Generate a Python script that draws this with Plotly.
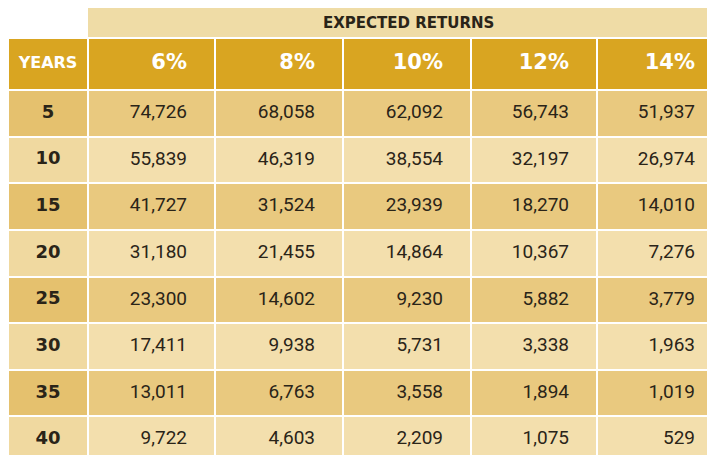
import plotly.graph_objects as go

years = ["5", "10", "15", "20", "25", "30", "35", "40"]
rates = ["6%", "8%", "10%", "12%", "14%"]
r6 = ["74,726", "55,839", "41,727", "31,180", "23,300", "17,411", "13,011", "9,722"]
r8 = ["68,058", "46,319", "31,524", "21,455", "14,602", "9,938", "6,763", "4,603"]
r10 = ["62,092", "38,554", "23,939", "14,864", "9,230", "5,731", "3,558", "2,209"]
r12 = ["56,743", "32,197", "18,270", "10,367", "5,882", "3,338", "1,894", "1,075"]
r14 = ["51,937", "26,974", "14,010", "7,276", "3,779", "1,963", "1,019", "529"]
cols = [r6, r8, r10, r12, r14]

W, H = 715, 455
xedges = [0, 80, 207, 335, 463, 589, 715]
yedges = [30, 82] + [82 + 46.625 * (k + 1) for k in range(len(years))]

# color codes: 0 header, 1 odd row, 2 even row, 3 year odd, 4 year even
z = [[0] * 6]
for i in range(len(years)):
    z.append([3 if i % 2 == 0 else 4] + [1 if i % 2 == 0 else 2] * 5)
cs = [[0, "#D9A521"], [0.125, "#D9A521"], [0.125, "#E9C97F"], [0.375, "#E9C97F"],
      [0.375, "#F3DFAD"], [0.625, "#F3DFAD"], [0.625, "#E5C16E"], [0.875, "#E5C16E"],
      [0.875, "#F0D9A0"], [1, "#F0D9A0"]]

fig = go.Figure()
fig.add_trace(go.Heatmap(x=xedges, y=yedges, z=z, colorscale=cs, zmin=0, zmax=4,
                         showscale=False, xgap=2, ygap=2, hoverinfo="skip"))

ymid = [(yedges[k] + yedges[k + 1]) / 2 for k in range(len(yedges) - 1)]
# header texts
fig.add_trace(go.Scatter(x=[40], y=[ymid[0]], mode="text", text=["<b>YEARS</b>"],
                         textfont=dict(family="DejaVu Sans", size=16, color="white"),
                         textposition="middle center"))
fig.add_trace(go.Scatter(x=[e - 28 for e in xedges[2:]], y=[ymid[0]] * 5, mode="text",
                         text=[f"<b>{r}</b>" for r in rates],
                         textfont=dict(family="DejaVu Sans", size=21, color="white"),
                         textposition="middle left"))
fig.add_trace(go.Scatter(x=[40] * len(years), y=ymid[1:], mode="text",
                         text=[f"<b>{y}</b>" for y in years],
                         textfont=dict(family="DejaVu Sans", size=18, color="#2a2418"),
                         textposition="middle center"))
for j, c in enumerate(cols):
    fig.add_trace(go.Scatter(x=[xedges[j + 2] - 28] * len(c), y=ymid[1:], mode="text",
                             text=c, textfont=dict(family="Roboto", size=19, color="#2a2418"),
                             textposition="middle left"))

fig.add_shape(type="rect", xref="x", yref="y", x0=80, x1=715, y0=0, y1=29,
              fillcolor="#EFDCA6", line_width=0, layer="below")
fig.add_annotation(text="<b>EXPECTED RETURNS</b>", xref="x", yref="y", x=400, y=15,
                   showarrow=False, font=dict(family="DejaVu Sans", size=15, color="#2a2418"))

fig.update_xaxes(range=[0, W], visible=False, fixedrange=True)
fig.update_yaxes(range=[H, 0], visible=False, fixedrange=True)
fig.update_layout(width=W, height=H, margin=dict(l=0, r=0, t=0, b=0),
                  paper_bgcolor="white", plot_bgcolor="white", showlegend=False)
fig.write_html("out.html")
